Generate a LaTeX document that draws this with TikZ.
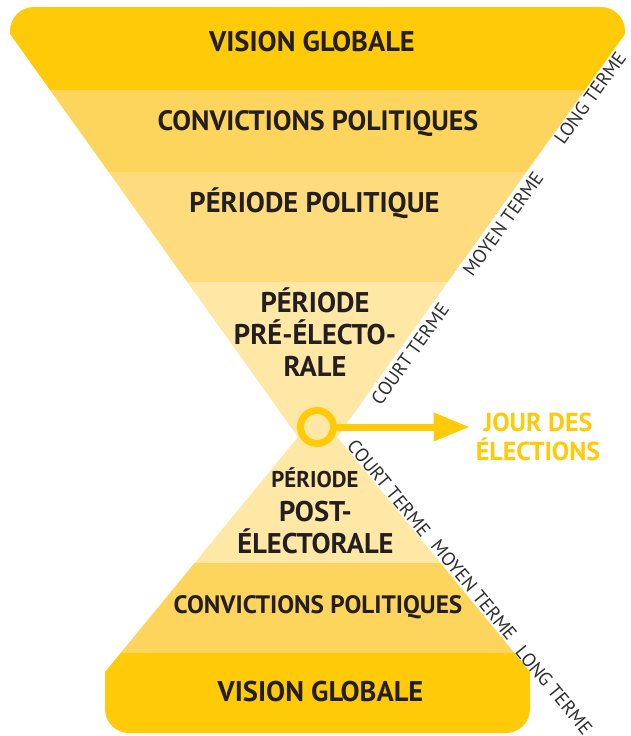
\documentclass[tikz,border=0pt]{standalone}
\usepackage{fontspec}
\setmainfont{PT Sans}
\usepackage{tikz}
\usetikzlibrary{arrows.meta}
\usetikzlibrary{positioning}

\definecolor{bandstrong}{RGB}{255,202,8}
\definecolor{bandmid}{RGB}{253,212,92}
\definecolor{bandlight}{RGB}{254,220,125}
\definecolor{bandpale}{RGB}{255,232,166}
\definecolor{textdark}{RGB}{35,31,32}
\definecolor{textgrey}{RGB}{45,45,45}

\begin{document}
\begin{tikzpicture}[
            x=1pt, y=-1pt,
            bandtext/.style={align=center, text=textdark, font=\fontsize{28.5}{32}\selectfont\bfseries, inner sep=0pt},
            smalltext/.style={text=textdark, font=\fontsize{22.8}{26}\selectfont\bfseries, inner sep=0pt},
            daytext/.style={align=center, text=bandstrong, font=\fontsize{26}{29}\selectfont\bfseries, inner sep=6pt},
            termlabel/.style={text=textgrey, font=\fontsize{19}{22}\selectfont, inner sep=0pt},
            ring/.style={circle, draw=bandstrong, line width=7pt, fill=bandpale, minimum size=33pt, inner sep=0pt},
            pointer/.style={draw=bandstrong, line width=7pt, -{Triangle[length=36pt, width=27pt]}},
        ]
        \useasboundingbox (0,0) rectangle (630,736);

        % Upper part.
        \begin{scope}
            \clip (10,34) [rounded corners=24pt] -- (10,7) -- (625,7) [sharp corners] -- (625,34) -- (337,437) -- (298,437) -- cycle;
            \fill[bandstrong] (0,0) rectangle (630,90);
            \fill[bandmid] (0,90) rectangle (630,172);
            \fill[bandlight] (0,172) rectangle (630,282);
            \fill[bandpale] (0,282) rectangle (630,437);
        \end{scope}

        % Lower part.
        \begin{scope}
            \clip (298,437) -- (337,437) -- (530,672) [rounded corners=24pt] -- (530,733) -- (105,733) [sharp corners] -- (105,672) -- cycle;
            \fill[bandpale] (0,437) rectangle (630,563);
            \fill[bandmid] (0,563) rectangle (630,653);
            \fill[bandstrong] (0,653) rectangle (630,736);
        \end{scope}

        % Nodes.
        \node[ring] (election_day) at (317,427) {};
        \node[daytext] (election_label) at (538,437) {JOUR DES\\ÉLECTIONS};

        \node[bandtext] (vision_top) at (312,42) {VISION GLOBALE};
        \node[bandtext, font=\fontsize{28}{32}\selectfont\bfseries] (convictions_top) at (318,124) {CONVICTIONS POLITIQUES};
        \node[bandtext] (period_political) at (314.5,203.5) {PÉRIODE POLITIQUE};
        \node[bandtext] (period_pre) at (315,332.5) {PÉRIODE\\PRÉ-ÉLECTO-\\RALE};
        \node[smalltext] (period_word) at (315,478) {PÉRIODE};
        \node[bandtext] (period_post) at (315.5,528) {POST-\\ÉLECTORALE};
        \node[bandtext, font=\fontsize{25.2}{30}\selectfont\bfseries] (convictions_bottom) at (318,607) {CONVICTIONS POLITIQUES};
        \node[bandtext] (vision_bottom) at (320.5,692) {VISION GLOBALE};

        \node[termlabel, rotate=54.4] (long_up) at (590,98) {LONG TERME};
        \node[termlabel, rotate=54.4] (medium_up) at (503,224) {MOYEN TERME};
        \node[termlabel, rotate=54.4] (short_up) at (410,354) {COURT TERME};
        \node[termlabel, rotate=-50.6] (short_down) at (389,488) {COURT TERME};
        \node[termlabel, rotate=-50.6] (medium_down) at (474,590) {MOYEN TERME};
        \node[termlabel, rotate=-50.6] (long_down) at (554,690) {LONG TERME};

        % Lines.
        \draw[pointer] (election_day.east) -- (election_day.east -| election_label.west);
    \end{tikzpicture}
\end{document}
